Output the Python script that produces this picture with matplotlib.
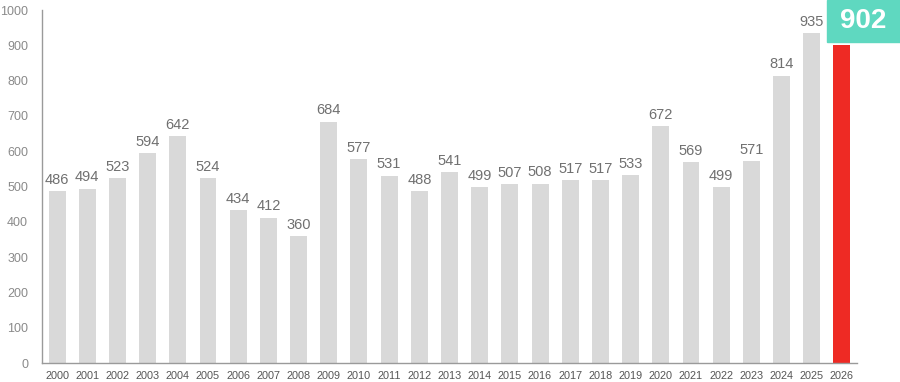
import matplotlib
matplotlib.use("Agg")
import matplotlib.pyplot as plt
from matplotlib.patches import Rectangle

years = [str(y) for y in range(2000, 2027)]
values = [486, 494, 523, 594, 642, 524, 434, 412, 360, 684, 577, 531, 488, 541,
          499, 507, 508, 517, 517, 533, 672, 569, 499, 571, 814, 935, 902]
highlight_value = 902

plt.rcParams['font.family'] = ['Liberation Sans', 'DejaVu Sans']

fig = plt.figure(figsize=(9, 3.82), dpi=100)
ax = fig.add_axes([42/900, 19/382, (857-42)/900, (363-10)/382])

x = list(range(len(years)))
colors = ['#d9d9d9'] * (len(years) - 1) + ['#ee2a24']
ax.bar(x, values, width=0.56, color=colors, zorder=2)

for xi, v in zip(x[:-1], values[:-1]):
    ax.text(xi, v + 12, str(v), ha='center', va='bottom', fontsize=10.5, color='#707070')

ax.set_xlim(-0.5, len(years) - 0.5)
ax.set_ylim(0, 1000)
ax.set_yticks(range(0, 1001, 100))
ax.set_xticks(x)
ax.set_xticklabels(years, fontsize=7.8, color='#555555')
ax.tick_params(axis='y', labelsize=9, colors='#8a8a8a', length=0, pad=10)
ax.tick_params(axis='x', length=0, pad=6)
for s in ['top', 'right']:
    ax.spines[s].set_visible(False)
for s in ['left', 'bottom']:
    ax.spines[s].set_color('#9a9a9a')
    ax.spines[s].set_linewidth(1.0)

# badge
fig.patches.append(Rectangle((827/900, 1 - 42/382), 73/900, 42/382,
                             transform=fig.transFigure, color='#5fd8c0', zorder=5))
fig.text(863/900, 1 - 21/382, str(highlight_value), ha='center', va='center',
         fontsize=20, fontweight='bold', color='white', zorder=6)

fig.savefig('out.png', dpi=100)
